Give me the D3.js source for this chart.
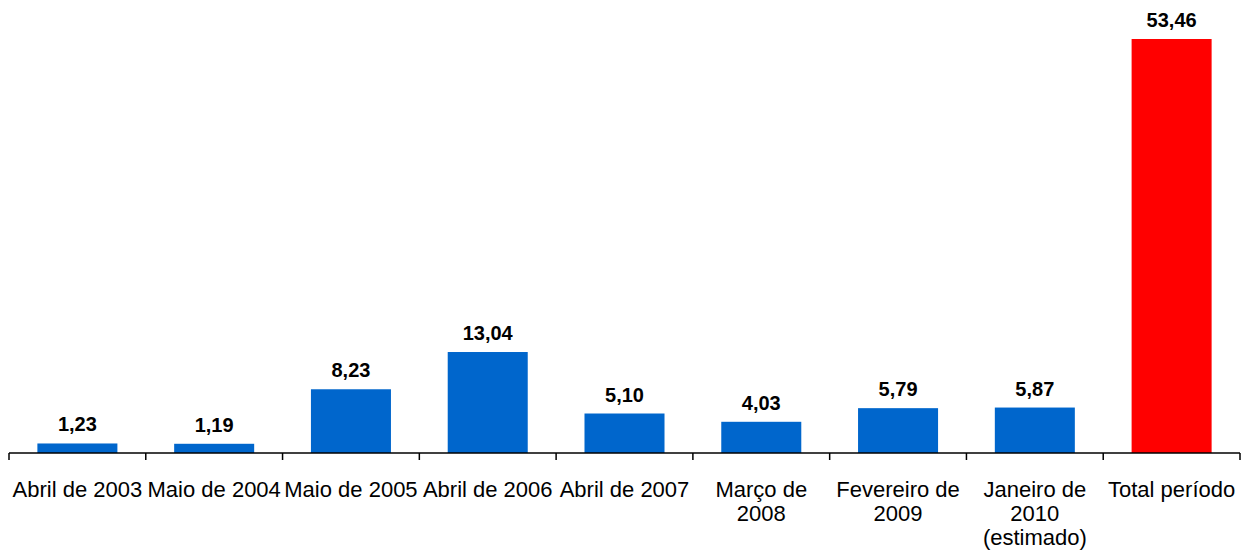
<!DOCTYPE html>
<html lang="pt">
<head>
    <meta charset="UTF-8"/>
    <title>Chart</title>
    <script src="https://d3js.org/d3.v7.min.js"></script>
    <style>
        body { margin: 0; background: #fff; }
        text { font-family: Arial, "Liberation Sans", sans-serif; }
    </style>
</head>
<body>
    <script>
        // categories (each line of a label is one entry)
        var categories = [
            ["Abril de 2003"],
            ["Maio de 2004"],
            ["Maio de 2005"],
            ["Abril de 2006"],
            ["Abril de 2007"],
            ["Março de", "2008"],
            ["Fevereiro de", "2009"],
            ["Janeiro de", "2010", "(estimado)"],
            ["Total período"]
        ];
        var values = [1.23, 1.19, 8.23, 13.04, 5.10, 4.03, 5.79, 5.87, 53.46];
        var colors = ["#0066cc", "#0066cc", "#0066cc", "#0066cc", "#0066cc", "#0066cc", "#0066cc", "#0066cc", "#ff0000"];

        var w = 1247;
        var h = 552;
        var left = 9, right = 1240;
        var baseY = 453;

        var svg = d3.select("body")
                    .append("svg")
                    .attr("width", w)
                    .attr("height", h);

        var keys = d3.range(values.length);

        var xScale = d3.scaleBand()
                        .domain(keys)
                        .range([left, right])
                        .paddingInner(0.415)
                        .paddingOuter(0.2075);

        // band for the axis ticks (no padding)
        var xAxisScale = d3.scaleBand()
                        .domain(keys)
                        .range([left, right]);

        var yScale = d3.scaleLinear()
                        .domain([0, 53.46])
                        .range([baseY, 39]);

        // bars
        svg.selectAll("rect.bar")
            .data(values)
            .enter()
            .append("rect")
            .attr("class", "bar")
            .attr("x", function(d, i) { return xScale(i); })
            .attr("y", function(d) { return yScale(d); })
            .attr("width", xScale.bandwidth())
            .attr("height", function(d) { return baseY - yScale(d); })
            .attr("fill", function(d, i) { return colors[i]; });

        // value labels
        svg.selectAll("text.value")
            .data(values)
            .enter()
            .append("text")
            .attr("class", "value")
            .attr("x", function(d, i) { return xScale(i) + xScale.bandwidth() / 2; })
            .attr("y", function(d) { return yScale(d) - 12; })
            .attr("text-anchor", "middle")
            .attr("font-size", "20px")
            .attr("font-weight", "bold")
            .attr("fill", "#000")
            .text(function(d) { return d.toFixed(2).replace(".", ","); });

        // x axis line with ticks at category boundaries
        var axis = svg.append("g");
        axis.append("line")
            .attr("x1", left).attr("x2", right)
            .attr("y1", baseY).attr("y2", baseY)
            .attr("stroke", "#000")
            .attr("stroke-width", 1.5);

        var bounds = keys.map(function(k) { return xAxisScale(k); }).concat([right]);
        axis.selectAll("line.tick")
            .data(bounds)
            .enter()
            .append("line")
            .attr("class", "tick")
            .attr("x1", function(d) { return d; })
            .attr("x2", function(d) { return d; })
            .attr("y1", baseY)
            .attr("y2", baseY + 7)
            .attr("stroke", "#000")
            .attr("stroke-width", 1.5);

        // category labels
        var labels = axis.selectAll("text.cat")
            .data(categories)
            .enter()
            .append("text")
            .attr("class", "cat")
            .attr("text-anchor", "middle")
            .attr("font-size", "22px")
            .attr("fill", "#000")
            .attr("transform", function(d, i) {
                return "translate(" + (xAxisScale(i) + xAxisScale.bandwidth() / 2) + "," + 497 + ")";
            });

        labels.selectAll("tspan")
            .data(function(d) { return d; })
            .enter()
            .append("tspan")
            .attr("x", 0)
            .attr("y", function(d, i) { return i * 24; })
            .text(function(d) { return d; });
    </script>
</body>
</html>
